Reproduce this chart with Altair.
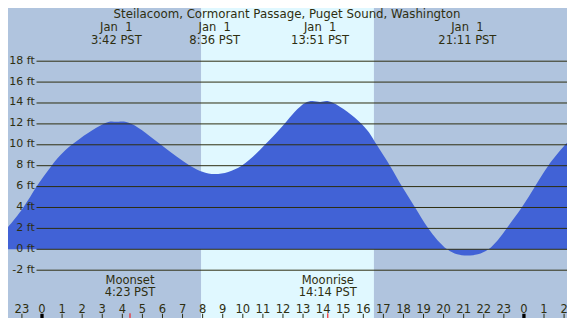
import altair as alt
import pandas as pd

# ---- data ----
# tide height (ft) against hours from midnight Jan 1 (grid-line crossings and extremes)
tide_hours = [-2.09, -1.76, -0.93, -0.27, 0.48, 1.48, 3.05, 3.70, 4.47, 5.93,
              7.37, 8.60, 9.94, 11.10, 12.07, 13.10, 13.85, 14.51, 15.92, 16.67,
              17.33, 17.93, 18.58, 19.24, 20.18, 21.18, 22.23, 23.14, 23.89, 24.55,
              25.21, 26.05, 26.55]
tide_feet = [1.7, 2.0, 4.0, 6.0, 8.0, 10.0, 12.0, 12.2, 12.0, 10.0,
             8.0, 7.2, 8.0, 10.0, 12.0, 14.0, 14.1, 14.0, 12.0, 10.0,
             8.0, 6.0, 4.0, 2.0, 0.0, -0.6, 0.0, 2.0, 4.0, 6.0,
             8.0, 10.0, 11.0]

grid_feet = [18, 16, 14, 12, 10, 8, 6, 4, 2, 0, -2]
grid_labels = ["18 ft", "16 ft", "14 ft", "12 ft", "10 ft", "8 ft", "6 ft",
               "4 ft", "2 ft", "0 ft", "-2 ft"]

sunrise_hour = [7.92]
sunset_hour = [16.53]

event_hours = [3.70, 8.60, 13.85, 21.183]
event_dates = ["Jan \u00a01", "Jan \u00a01", "Jan \u00a01", "Jan \u00a01"]
event_times = ["3:42 PST", "8:36 PST", "13:51 PST", "21:11 PST"]

moon_hours = [4.383, 14.233]
moon_names = ["Moonset", "Moonrise"]
moon_times = ["4:23 PST", "14:14 PST"]

tick_hours = list(range(-1, 27))
tick_labels = [str(h % 24) for h in tick_hours]
midnight_hours = [0, 24]

title_text = ["Steilacoom, Cormorant Passage, Puget Sound, Washington"]

# ---- styling ----
W, H = 559, 310
NIGHT = "#B0C4DE"
DAY = "#E0F8FF"
WATER = "#4162D6"
INK = "#2E2E10"
FONT = "DejaVu Sans"
FS = 11.5

xs = alt.Scale(domain=[-1.693, 26.145], nice=False, zero=False)
ys = alt.Scale(domain=[-6.575, 23.09], nice=False, zero=False)

tide_df = pd.DataFrame({"hour": tide_hours, "ft": tide_feet})
grid_df = pd.DataFrame({"ft": grid_feet, "label": grid_labels})
day_df = pd.DataFrame({"start": sunrise_hour, "end": sunset_hour})
event_df = pd.DataFrame({"hour": event_hours, "date": event_dates, "time": event_times})
moon_df = pd.DataFrame({"hour": moon_hours, "name": moon_names, "time": moon_times})
tick_df = pd.DataFrame({"hour": tick_hours, "label": tick_labels})
mid_df = pd.DataFrame({"hour": midnight_hours})
title_df = pd.DataFrame({"t": title_text})


def X(f):
    return alt.X(f, type="quantitative", scale=xs, axis=None)


def Y(f):
    return alt.Y(f, type="quantitative", scale=ys, axis=None)


def txt(df, **kw):
    return alt.Chart(df).mark_text(font=FONT, color=INK, **kw)


day = alt.Chart(day_df).mark_rect(color=DAY).encode(
    x=X("start"), x2="end", y=alt.value(0), y2=alt.value(H))

water = alt.Chart(tide_df).mark_area(color=WATER, interpolate="natural", clip=True).encode(
    x=X("hour"), y=Y("ft"), y2=alt.value(H))

grid = alt.Chart(grid_df).mark_rule(color=INK, strokeWidth=1).encode(
    y=Y("ft"), x=alt.value(28.5), x2=alt.value(W))

ylab = txt(grid_df, align="right", baseline="middle", dy=-0.5, fontSize=11).encode(
    y=Y("ft"), x=alt.value(26.8), text="label:N")

title = txt(title_df, align="center", baseline="alphabetic", fontSize=11.8).encode(
    x=alt.value(279), y=alt.value(9.5), text="t:N")

events = txt(event_df, align="center", baseline="alphabetic", fontSize=FS,
             lineBreak="\n", lineHeight=12.5).transform_calculate(
    lbl="datum.date + '\\n' + datum.time"
).encode(x=X("hour"), y=alt.value(23), text="lbl:N")

moons = txt(moon_df, align="center", baseline="alphabetic", fontSize=FS,
            lineBreak="\n", lineHeight=12).transform_calculate(
    lbl="datum.name + '\\n' + datum.time"
).encode(x=X("hour"), y=alt.value(276), text="lbl:N")

hour_lab = txt(tick_df, align="center", baseline="alphabetic", fontSize=FS).encode(
    x=X("hour"), y=alt.value(305.2), text="label:N")

ticks = alt.Chart(tick_df).mark_rule(color=INK, strokeWidth=1).encode(
    x=X("hour"), y=alt.value(305.8), y2=alt.value(H))

mid_ticks = alt.Chart(mid_df).mark_rule(color="#000000", strokeWidth=3.3).encode(
    x=X("hour"), y=alt.value(305.8), y2=alt.value(H))

moon_ticks = alt.Chart(moon_df).mark_rule(color="#FF0000", strokeWidth=1).encode(
    x=X("hour"), y=alt.value(305.3), y2=alt.value(H))

chart = alt.layer(
    day, water, grid, ylab, title, events, moons,
    hour_lab, ticks, mid_ticks, moon_ticks
).properties(
    width=W, height=H, padding=0,
    autosize=alt.AutoSizeParams(type="none"),
    background=NIGHT,
).configure_view(fill=NIGHT, strokeWidth=0)

chart.save("out.html", embed_options={"renderer": "svg", "actions": False})
